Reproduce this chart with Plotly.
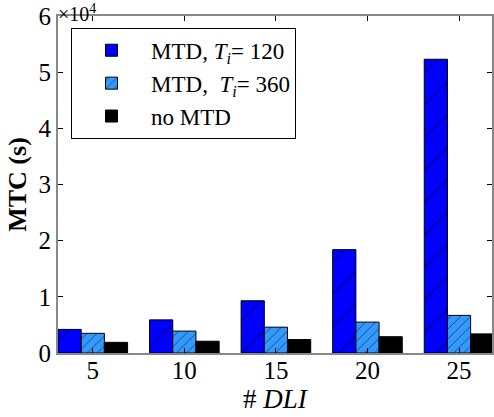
import plotly.graph_objects as go

categories = ["5", "10", "15", "20", "25"]
mtd_120 = [4200, 5900, 9300, 18400, 52300]
mtd_360 = [3500, 3900, 4600, 5500, 6700]
no_mtd = [1900, 2100, 2400, 2900, 3400]
y_ticks = [0, 10000, 20000, 30000, 40000, 50000, 60000]
y_tick_labels = ["0", "1", "2", "3", "4", "5", "6"]

SERIF = "Liberation Serif"

fig = go.Figure()
fig.add_trace(go.Bar(
    x=categories, y=mtd_120, name="MTD, <i>T<sub>i</sub></i>= 120",
    marker=dict(color="#0000ff", line=dict(color="black", width=1),
                pattern=dict(shape="/", fgcolor="black", size=23, solidity=0.05)),
))
fig.add_trace(go.Bar(
    x=categories, y=mtd_360, name="MTD,\u00a0 <i>T<sub>i</sub></i>= 360",
    marker=dict(color="#3399ff", line=dict(color="black", width=1),
                pattern=dict(shape="/", fgcolor="black", size=7, solidity=0.14)),
))
fig.add_trace(go.Bar(
    x=categories, y=no_mtd, name="no MTD",
    marker=dict(color="black", line=dict(color="black", width=1)),
))

fig.update_layout(
    width=494, height=417,
    margin=dict(l=58, r=0, t=16, b=64),
    paper_bgcolor="white", plot_bgcolor="white",
    barmode="group", bargap=0.24, bargroupgap=0,
    font=dict(family=SERIF, color="black", size=24),
    showlegend=True,
    legend=dict(x=0.03, y=0.965, xanchor="left", yanchor="top",
                bordercolor="black", borderwidth=1, bgcolor="white",
                font=dict(family=SERIF, size=23), itemwidth=69,
                tracegroupgap=0),
    xaxis=dict(
        range=[-0.38, 4.36], showline=True, linecolor="#888888", linewidth=2,
        mirror="ticks", ticks="inside", ticklen=5, tickcolor="black",
        tickfont=dict(size=25, family=SERIF), ticklabelstandoff=-6,
        title=dict(text="# <i>DLI</i>", font=dict(size=27, family=SERIF), standoff=0),
    ),
    yaxis=dict(
        range=[0, 60000], tickvals=y_ticks, ticktext=y_tick_labels,
        showline=True, linecolor="#888888", linewidth=2,
        mirror="ticks", ticks="inside", ticklen=5, tickcolor="black",
        showgrid=False, zeroline=False,
        tickfont=dict(size=25, family=SERIF),
        title=dict(text="<b>MTC (s)</b>", font=dict(size=26, family=SERIF), standoff=4),
    ),
)
fig.add_annotation(
    xref="paper", yref="paper", x=0.0, y=1.0, xanchor="left", yanchor="bottom",
    text="×10<sup>4</sup>", showarrow=False, font=dict(size=20, family=SERIF),
    yshift=-11, xshift=-2,
)

fig.write_html("out.html")
